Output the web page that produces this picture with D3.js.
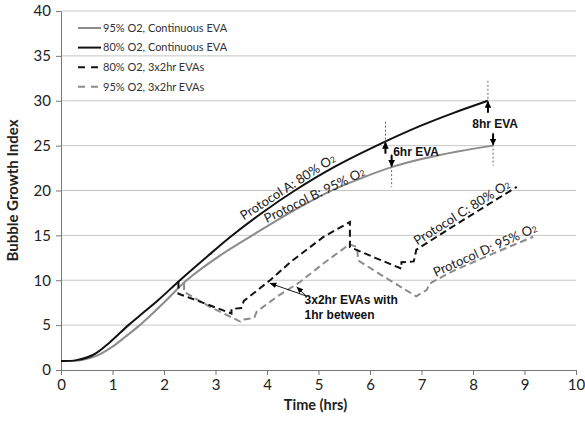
<!DOCTYPE html>
<html>
<head>
<meta charset="utf-8">
<script src="https://cdn.jsdelivr.net/npm/d3@7"></script>
<style>
  body { margin: 0; background: #fff; }
  svg text { font-family: Lato, "Open Sans", sans-serif; }
</style>
</head>
<body>
<div id="chart"></div>
<script>
// tick values
const xTicks = [0, 1, 2, 3, 4, 5, 6, 7, 8, 9, 10];
const yTicks = [0, 5, 10, 15, 20, 25, 30, 35, 40];

// [time (hrs), bubble growth index]
const protocolA = [[0, 1], [0.3, 1.1], [0.63, 1.7], [0.95, 3.1], [1.31, 5], [1.6, 6.4], [1.89, 7.8],
  [2.31, 10], [2.8, 12.45], [3.28, 14.8], [3.9, 17.5], [4.54, 20], [5.3, 22.6], [6.13, 25],
  [7, 27.25], [7.6, 28.6], [8.29, 30]];
const protocolB = [[0, 1], [0.4, 1.1], [0.7, 1.6], [1, 2.6], [1.25, 3.7], [1.53, 5], [2.05, 7.8],
  [2.44, 10], [3.1, 12.8], [3.77, 15.2], [4.5, 17.7], [5.22, 19.9], [5.8, 21.3], [6.42, 22.6],
  [7, 23.5], [7.7, 24.35], [8.39, 25]];
const protocolC = [[2.28, 9.85], [2.28, 8.5], [2.8, 7.4], [3.31, 6.3], [3.31, 6.8], [3.5, 6.9],
  [3.55, 7.7], [4.06, 10], [4.45, 12], [5.09, 14.8], [5.61, 16.5], [5.61, 13.7], [6.1, 12.5],
  [6.61, 11.3], [6.61, 12], [6.85, 12.1], [6.9, 13.4], [7.5, 15.6], [8.2, 18.1], [8.85, 20.4]];
const protocolD = [[2.39, 9.7], [2.39, 8.7], [2.9, 7], [3.48, 5.4], [3.5, 5.6], [3.75, 5.8],
  [3.8, 6.5], [4.2, 8.2], [4.64, 9.8], [5.1, 11.9], [5.6, 14], [5.75, 13.7], [5.77, 12.2],
  [6.3, 10.3], [6.9, 8.2], [6.95, 8.4], [7.1, 8.9], [7.15, 9.6], [7.6, 11], [8.4, 13], [9.17, 14.85]];

const legendNames = ["95% O2, Continuous EVA", "80% O2, Continuous EVA", "80% O2, 3x2hr EVAs", "95% O2, 3x2hr EVAs"];

const width = 585, height = 421;
const margin = { top: 11, right: 9, bottom: 51, left: 61 };

const x = d3.scaleLinear().domain([0, 10]).range([margin.left, width - margin.right]);
const y = d3.scaleLinear().domain([0, 40]).range([height - margin.bottom, margin.top]);

const BLACK = "#111", GRAY = "#8c8c8c";

const svg = d3.select("#chart").append("svg")
  .attr("width", width)
  .attr("height", height);

const defs = svg.append("defs");
defs.append("marker")
  .attr("id", "head")
  .attr("viewBox", "0 0 10 10")
  .attr("refX", 9).attr("refY", 5)
  .attr("markerWidth", 3.4).attr("markerHeight", 3.4)
  .attr("markerUnits", "strokeWidth")
  .attr("orient", "auto")
  .append("path").attr("d", "M0,0L10,5L0,10Z").attr("fill", "#000");
defs.append("marker")
  .attr("id", "headThin")
  .attr("viewBox", "0 0 10 10")
  .attr("refX", 9).attr("refY", 5)
  .attr("markerWidth", 7).attr("markerHeight", 7)
  .attr("markerUnits", "userSpaceOnUse")
  .attr("orient", "auto")
  .append("path").attr("d", "M0,1L10,5L0,9Z").attr("fill", "#000");

// gridlines
svg.append("g")
  .selectAll("line")
  .data(yTicks.filter(d => d > 0))
  .enter().append("line")
  .attr("x1", x(0)).attr("x2", x(10))
  .attr("y1", d => y(d)).attr("y2", d => y(d))
  .attr("stroke", "#c6c6c6").attr("stroke-width", 1);

// axes
const yAxis = svg.append("g")
  .attr("transform", `translate(${x(0)},0)`)
  .call(d3.axisLeft(y).tickValues(yTicks).tickSizeInner(5).tickSizeOuter(0).tickPadding(5));
const xAxis = svg.append("g")
  .attr("transform", `translate(0,${y(0)})`)
  .call(d3.axisBottom(x).tickValues(xTicks).tickSizeInner(5).tickSizeOuter(0).tickPadding(4));
[xAxis, yAxis].forEach(g => {
  g.select(".domain").attr("stroke", "#777");
  g.selectAll(".tick line").attr("stroke", "#777");
  g.selectAll(".tick text").attr("font-size", 15).attr("fill", "#222")
    .style("font-family", "Lato, sans-serif");
});

svg.append("text")
  .attr("x", x(5) - 3).attr("y", 410)
  .attr("text-anchor", "middle")
  .attr("font-size", 14.5).attr("font-weight", "bold").attr("fill", "#222")
  .text("Time (hrs)");
svg.append("text")
  .attr("transform", `translate(18,${y(20)}) rotate(-90)`)
  .attr("text-anchor", "middle")
  .attr("font-size", 15).attr("font-weight", "bold").attr("fill", "#222")
  .text("Bubble Growth Index");

// series
const smooth = d3.line().x(d => x(d[0])).y(d => y(d[1])).curve(d3.curveCatmullRom.alpha(0.5));
const straight = d3.line().x(d => x(d[0])).y(d => y(d[1]));

const series = [
  { data: protocolB, color: GRAY, dash: null, gen: smooth },
  { data: protocolA, color: BLACK, dash: null, gen: smooth },
  { data: protocolD, color: GRAY, dash: "7,4", gen: straight },
  { data: protocolC, color: BLACK, dash: "7,4", gen: straight }
];
svg.append("g")
  .selectAll("path")
  .data(series)
  .enter().append("path")
  .attr("d", d => d.gen(d.data))
  .attr("fill", "none")
  .attr("stroke", d => d.color)
  .attr("stroke-width", 2)
  .attr("stroke-dasharray", d => d.dash);

// legend
const legendRows = [
  { name: legendNames[0], color: GRAY, dash: null },
  { name: legendNames[1], color: BLACK, dash: null },
  { name: legendNames[2], color: BLACK, dash: "7,6" },
  { name: legendNames[3], color: GRAY, dash: "7,6" }
];
const legend = svg.append("g")
  .selectAll("g")
  .data(legendRows)
  .enter().append("g")
  .attr("transform", (d, i) => `translate(78,${28 + i * 19.6})`);
legend.append("line")
  .attr("x1", 0).attr("x2", 23)
  .attr("stroke", d => d.color).attr("stroke-width", 2)
  .attr("stroke-dasharray", d => d.dash);
legend.append("text")
  .attr("x", 25).attr("dy", "0.35em")
  .attr("font-size", 11).attr("fill", "#333")
  .text(d => d.name);

// helpers for annotations
function valueAt(data, t) {
  for (let i = 1; i < data.length; i++) {
    if (data[i][0] >= t) {
      const a = data[i - 1], b = data[i];
      const f = b[0] === a[0] ? 1 : (t - a[0]) / (b[0] - a[0]);
      return a[1] + f * (b[1] - a[1]);
    }
  }
  return data[data.length - 1][1];
}

// rotated curve labels
const curveLabels = [
  { data: protocolA, t0: 3.6, t1: 5.5, text: "Protocol A: 80% O", off: 5 },
  { data: protocolB, t0: 4.02, t1: 6.2, text: "Protocol B: 95% O", off: 3 },
  { data: protocolC, t0: 6.95, t1: 8.6, text: "Protocol C: 80% O", off: 3 },
  { data: protocolD, t0: 7.3, t1: 9.1, text: "Protocol D: 95% O", off: 3 }
];
curveLabels.forEach(l => {
  const px0 = x(l.t0), py0 = y(valueAt(l.data, l.t0));
  const px1 = x(l.t1), py1 = y(valueAt(l.data, l.t1));
  const ang = Math.atan2(py1 - py0, px1 - px0) * 180 / Math.PI;
  const t = svg.append("text")
    .attr("transform", `translate(${px0},${py0}) rotate(${ang}) translate(0,${-l.off})`)
    .attr("font-size", 13).attr("fill", "#222");
  t.append("tspan").text(l.text);
  t.append("tspan").attr("font-size", 8.5).text("2");
});

// EVA end markers
const evaMarks = [
  { data: protocolA, t: 6.3, up: true },
  { data: protocolB, t: 6.42, up: false },
  { data: protocolA, t: 8.29, up: true },
  { data: protocolB, t: 8.39, up: false }
];
evaMarks.forEach(m => {
  const px = x(m.t), py = y(valueAt(m.data, m.t));
  svg.append("line")
    .attr("x1", px).attr("x2", px)
    .attr("y1", m.up ? py - 20 : py - 13)
    .attr("y2", m.up ? py + 12 : py + 20)
    .attr("stroke", "#666").attr("stroke-width", 1)
    .attr("stroke-dasharray", "2,2");
  svg.append("line")
    .attr("x1", px).attr("x2", px)
    .attr("y1", m.up ? py + 12 : py - 12)
    .attr("y2", m.up ? py + 1 : py - 1)
    .attr("stroke", "#000").attr("stroke-width", 2)
    .attr("marker-end", "url(#head)");
});

const boldLabels = [
  { t: 6.45, v: 23.85, text: "6hr EVA", anchor: "start" },
  { t: 8.43, v: 27.0, text: "8hr EVA", anchor: "middle" },
  { t: 4.73, v: 7.35, text: "3x2hr EVAs with", anchor: "start" },
  { t: 4.73, v: 5.7, text: "1hr between", anchor: "start" }
];
svg.append("g")
  .selectAll("text")
  .data(boldLabels)
  .enter().append("text")
  .attr("x", d => x(d.t)).attr("y", d => y(d.v))
  .attr("text-anchor", d => d.anchor)
  .attr("font-size", 12).attr("font-weight", "bold").attr("fill", "#111")
  .style("font-family", "'Liberation Sans', Arial, sans-serif")
  .text(d => d.text);

// pointer arrows to dashed curves
const pointerFrom = [4.76, 8.25];
const pointerTo = [[4.06, 9.66], [4.58, 9.25]];
svg.append("g")
  .selectAll("line")
  .data(pointerTo)
  .enter().append("line")
  .attr("x1", x(pointerFrom[0])).attr("y1", y(pointerFrom[1]))
  .attr("x2", d => x(d[0])).attr("y2", d => y(d[1]))
  .attr("stroke", "#000").attr("stroke-width", 0.9)
  .attr("marker-end", "url(#headThin)");
</script>
</body>
</html>
